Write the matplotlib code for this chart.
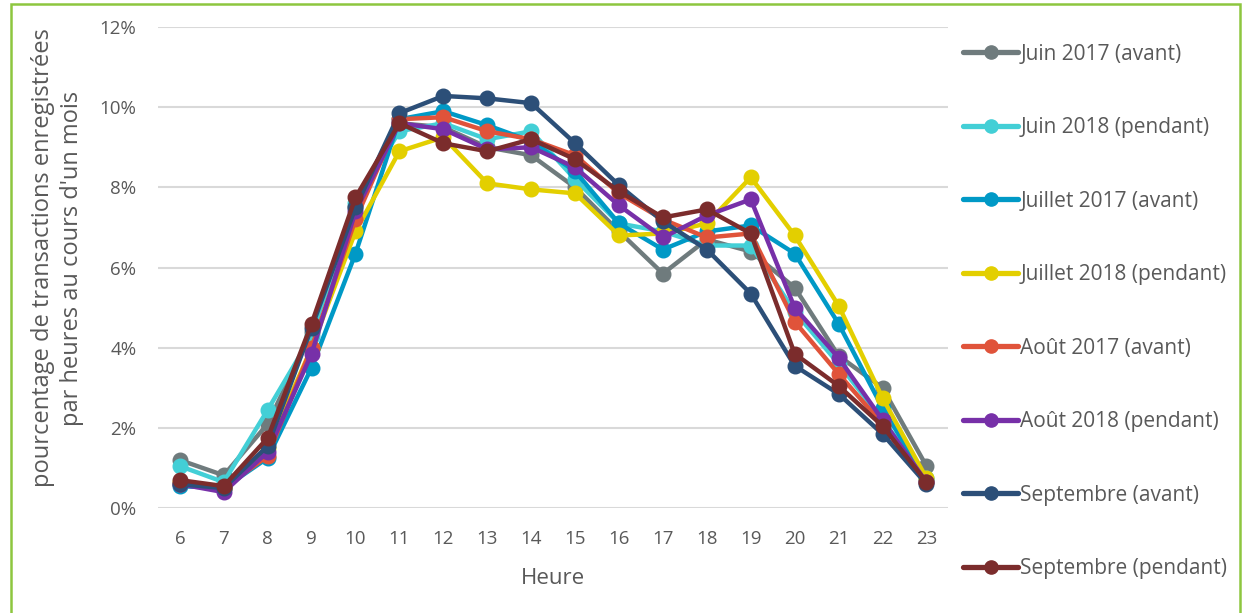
import matplotlib
matplotlib.use("Agg")
import matplotlib.pyplot as plt
from matplotlib.patches import Rectangle
from matplotlib.ticker import FuncFormatter

hours = [6, 7, 8, 9, 10, 11, 12, 13, 14, 15, 16, 17, 18, 19, 20, 21, 22, 23]

juin_2017 = [1.2, 0.82, 2.1, 4.4, 7.5, 9.6, 9.5, 9.0, 8.8, 8.0, 6.9, 5.85, 6.7, 6.4, 5.5, 3.8, 3.0, 1.05]
juin_2018 = [1.05, 0.65, 2.45, 4.3, 7.6, 9.4, 9.6, 9.2, 9.4, 8.2, 7.1, 6.9, 6.55, 6.55, 4.9, 3.6, 2.2, 0.75]
juillet_2017 = [0.55, 0.5, 1.25, 3.5, 6.35, 9.7, 9.9, 9.55, 9.15, 8.4, 7.1, 6.45, 6.9, 7.05, 6.35, 4.6, 2.5, 0.7]
juillet_2018 = [0.65, 0.5, 1.5, 4.0, 6.9, 8.9, 9.25, 8.1, 7.95, 7.85, 6.8, 6.85, 7.1, 8.25, 6.8, 5.05, 2.75, 0.75]
aout_2017 = [0.6, 0.5, 1.3, 4.0, 7.2, 9.7, 9.75, 9.4, 9.2, 8.8, 7.85, 7.2, 6.75, 6.85, 4.65, 3.35, 2.1, 0.65]
aout_2018 = [0.6, 0.4, 1.4, 3.85, 7.4, 9.6, 9.45, 8.95, 9.0, 8.5, 7.55, 6.75, 7.3, 7.7, 5.0, 3.75, 2.2, 0.65]
sept_avant = [0.6, 0.5, 1.55, 4.5, 7.5, 9.85, 10.28, 10.22, 10.1, 9.1, 8.05, 7.15, 6.45, 5.35, 3.55, 2.85, 1.85, 0.6]
sept_pendant = [0.7, 0.55, 1.75, 4.6, 7.75, 9.6, 9.1, 8.9, 9.2, 8.7, 7.9, 7.25, 7.45, 6.85, 3.85, 3.05, 2.05, 0.65]

labels = ["Juin 2017 (avant)", "Juin 2018 (pendant)", "Juillet 2017 (avant)",
          "Juillet 2018 (pendant)", "Août 2017 (avant)", "Août 2018 (pendant)",
          "Septembre (avant)", "Septembre (pendant)"]
series = [juin_2017, juin_2018, juillet_2017, juillet_2018, aout_2017, aout_2018,
          sept_avant, sept_pendant]
colors = ["#6F7B7D", "#43CFD6", "#0099C6", "#E3CF00", "#E0533A", "#7730A8",
          "#2C4F78", "#7B2C2C"]

plt.rcParams['font.family'] = ['Open Sans', 'DejaVu Sans']
txt = "#595959"

fig = plt.figure(figsize=(12.43, 6.13), dpi=100)
ax = fig.add_axes([0.127, 0.171, 0.636, 0.785])

x = list(range(len(hours)))
for s, lab, c in zip(series, labels, colors):
    ax.plot(x, s, color=c, lw=3.2, marker='o', ms=10.5, label=lab,
            solid_capstyle='round', solid_joinstyle='round')

ax.set_ylim(0, 12)
ax.set_yticks([0, 2, 4, 6, 8, 10, 12])
ax.yaxis.set_major_formatter(FuncFormatter(lambda v, p: f"{int(v)}%"))
ax.set_xlim(-0.5, len(hours) - 0.5)
ax.set_xticks(x)
ax.set_xticklabels([str(h) for h in hours])
ax.grid(axis='y', color='#D9D9D9', lw=1.5)
ax.set_axisbelow(True)
for sp in ax.spines.values():
    sp.set_visible(False)
ax.tick_params(length=0, labelsize=13.5, labelcolor=txt)
ax.tick_params(axis='x', pad=16)
ax.tick_params(axis='y', pad=15.5)
ax.set_xlabel("Heure", fontsize=16, color=txt)
ax.xaxis.label.set_va('center')
ax.xaxis.set_label_coords(0.5, (508 - 578) / 481)
ax.set_ylabel("pourcentage de transactions enregistrées\npar heures au cours d'un mois",
              fontsize=17, color=txt, linespacing=1.3)
ax.yaxis.label.set_va('center')
ax.yaxis.set_label_coords((58 - 158) / 790, 0.52)

leg = fig.legend(loc='upper left', bbox_to_anchor=(0.768, 0.9425), frameon=False,
                 fontsize=15, labelcolor=txt, handlelength=2.65, handletextpad=0.1,
                 labelspacing=2.52, borderaxespad=0)
for h in leg.legend_handles:
    h.set_markersize(9.5)
    h.set_linewidth(3.8)

fig.patches.append(Rectangle((0.0088, -0.02), 0.9884, 1.0135, transform=fig.transFigure,
                             fill=False, edgecolor='#8DC63F', lw=1.8))

fig.savefig("out.png", dpi=100)
